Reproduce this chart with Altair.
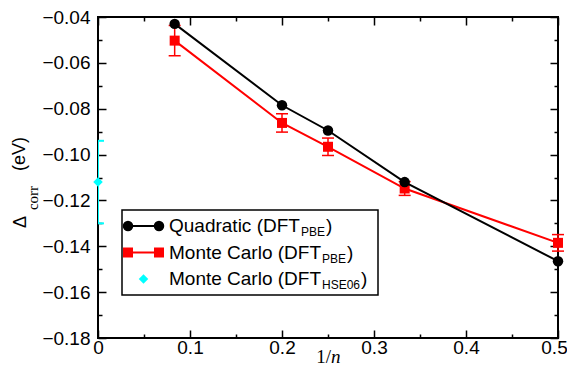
import altair as alt
import pandas as pd

# ---------------- data ----------------
inv_n = [1 / 12, 1 / 5, 1 / 4, 1 / 3, 1 / 2]
quadratic_pbe = [-0.0430, -0.0785, -0.0895, -0.1120, -0.1465]
mc_pbe = [-0.0503, -0.0862, -0.0966, -0.1148, -0.1385]
mc_pbe_err = [0.0066, 0.0040, 0.0038, 0.0030, 0.0036]
mc_hse_x = [0.0]
mc_hse = [-0.112]
mc_hse_err = [0.018]

y_major = [-0.18, -0.16, -0.14, -0.12, -0.10, -0.08, -0.06, -0.04]
y_minor = [-0.17, -0.15, -0.13, -0.11, -0.09, -0.07, -0.05]
x_major = [0.0, 0.1, 0.2, 0.3, 0.4, 0.5]
x_minor = [0.05, 0.15, 0.25, 0.35, 0.45]

legend_text = ["Quadratic (DFT", "Monte Carlo (DFT", "Monte Carlo (DFT"]
legend_sub = ["PBE", "PBE", "HSE06"]

# ---------------- styling ----------------
BLACK, RED, CYAN = "#000000", "#ff0000", "#00ffff"
SANS, SERIF = "Liberation Sans", "Liberation Serif"
TICK_FS = 19
LEG_FS = 19
SUB_FS = 12

xs = alt.Scale(domain=[0, 0.5], nice=False, zero=False)
ys = alt.Scale(domain=[-0.18, -0.04], nice=False, zero=False)

df_q = pd.DataFrame({"x": inv_n, "y": quadratic_pbe})
df_mc = pd.DataFrame({"x": inv_n, "y": mc_pbe, "err": mc_pbe_err})
df_mc["lo"] = df_mc["y"] - df_mc["err"]
df_mc["hi"] = df_mc["y"] + df_mc["err"]
df_h = pd.DataFrame({"x": mc_hse_x, "y": mc_hse, "err": mc_hse_err})
df_h["lo"] = df_h["y"] - df_h["err"]
df_h["hi"] = df_h["y"] + df_h["err"]
dummy = pd.DataFrame({"d": [0]})


def axis(orient, values, size, labels=False, pad=0, expr=None, last_shift=None):
    # inward ticks: axis line moved inside the frame by the tick length
    kw = dict(orient=orient, values=values, tickSize=size, offset=-size,
              tickWidth=1.5, tickColor=BLACK, domain=False, grid=False, title=None,
              labels=labels, ticks=True)
    if labels:
        kw.update(labelFont=SANS, labelFontSize=TICK_FS, labelColor=BLACK,
                  labelPadding=pad, labelOverlap=False, labelFlush=False, labelBound=False)
        if expr:
            kw["labelExpr"] = expr
        else:
            kw["format"] = ".2f"
        if last_shift is not None:
            kw["labelOffset"] = {"condition": {"test": "datum.value >= 0.5", "value": last_shift},
                                 "value": 0}
    return alt.Axis(**kw)


def axis_layer(xa, ya):
    return alt.Chart(df_q).mark_point(opacity=0).encode(
        x=alt.X("x:Q", scale=xs, axis=xa), y=alt.Y("y:Q", scale=ys, axis=ya))


X = alt.X("x:Q", scale=xs, axis=None)

axes = [
    axis_layer(axis("bottom", x_major, 8, True, 0,
                    "datum.value == 0 ? '0' : format(datum.value, '.1f')", last_shift=-4),
               axis("left", y_major, 8, True, 8)),
    axis_layer(axis("bottom", x_minor, 4), axis("left", y_minor, 4)),
    axis_layer(axis("top", x_major, 8), axis("right", y_major, 8)),
    axis_layer(axis("top", x_minor, 4), axis("right", y_minor, 4)),
]

red_line = alt.Chart(df_mc).mark_line(color=RED, strokeWidth=2).encode(
    x=X, y=alt.Y("y:Q", scale=ys, axis=None))
red_err = alt.Chart(df_mc).mark_rule(color=RED, strokeWidth=1.5).encode(
    x=X, y=alt.Y("lo:Q", scale=ys, axis=None), y2="hi:Q")
red_cap_lo = alt.Chart(df_mc).mark_tick(orient="horizontal", color=RED, size=12,
                                        thickness=1.5, opacity=1).encode(
    x=X, y=alt.Y("lo:Q", scale=ys, axis=None))
red_cap_hi = alt.Chart(df_mc).mark_tick(orient="horizontal", color=RED, size=12,
                                        thickness=1.5, opacity=1).encode(
    x=X, y=alt.Y("hi:Q", scale=ys, axis=None))
red_pts = alt.Chart(df_mc).mark_point(shape="square", filled=True, color=RED,
                                      size=100, opacity=1).encode(
    x=X, y=alt.Y("y:Q", scale=ys, axis=None))

blk_line = alt.Chart(df_q).mark_line(color=BLACK, strokeWidth=2).encode(
    x=X, y=alt.Y("y:Q", scale=ys, axis=None))
blk_pts = alt.Chart(df_q).mark_point(shape="circle", filled=True, color=BLACK,
                                     size=110, opacity=1).encode(
    x=X, y=alt.Y("y:Q", scale=ys, axis=None))

cy_err = alt.Chart(df_h).mark_rule(color=CYAN, strokeWidth=2, clip=True).encode(
    x=X, y=alt.Y("lo:Q", scale=ys, axis=None), y2="hi:Q")
cy_cap_lo = alt.Chart(df_h).mark_tick(orient="horizontal", color=CYAN, size=12,
                                      thickness=2, opacity=1, clip=True).encode(
    x=X, y=alt.Y("lo:Q", scale=ys, axis=None))
cy_cap_hi = alt.Chart(df_h).mark_tick(orient="horizontal", color=CYAN, size=12,
                                      thickness=2, opacity=1, clip=True).encode(
    x=X, y=alt.Y("hi:Q", scale=ys, axis=None))
cy_pts = alt.Chart(df_h).mark_point(shape="diamond", filled=True, color=CYAN,
                                    size=90, opacity=1).encode(
    x=X, y=alt.Y("y:Q", scale=ys, axis=None))


def txt(s, x, y, size, font=SANS, style=None, angle=None, align="left", baseline="middle"):
    m = dict(text=s, font=font, fontSize=size, align=align, baseline=baseline, color=BLACK)
    if style:
        m["fontStyle"] = style
    if angle is not None:
        m["angle"] = angle
    return alt.Chart(dummy).mark_text(**m).encode(x=alt.value(x), y=alt.value(y))


ARIAL_W = {'Q': .778, 'u': .556, 'a': .556, 'd': .556, 'r': .333, 't': .278, 'i': .222,
           'c': .5, ' ': .278, '(': .333, ')': .333, 'D': .722, 'F': .611, 'T': .611,
           'M': .833, 'o': .556, 'n': .556, 'e': .556, 'C': .722, 'l': .222, 'P': .667,
           'B': .667, 'E': .667, 'H': .722, 'S': .667, '0': .556, '6': .556}


def text_w(s, fs):
    return sum(ARIAL_W.get(c, .556) for c in s) * fs


# ---------------- legend ----------------
leg = [alt.Chart(dummy).mark_rect(fill="white", stroke=BLACK, strokeWidth=1.5).encode(
    x=alt.value(24), x2=alt.value(280), y=alt.value(193), y2=alt.value(278))]
row_y = [209, 235.5, 262]
sym_x0, sym_x1, text_x = 30, 61, 71
leg.append(alt.Chart(dummy).mark_rule(color=BLACK, strokeWidth=2).encode(
    x=alt.value(sym_x0), x2=alt.value(sym_x1), y=alt.value(row_y[0])))
for sx in (sym_x0, sym_x1):
    leg.append(alt.Chart(dummy).mark_point(shape="circle", filled=True, color=BLACK,
                                           size=110, opacity=1).encode(
        x=alt.value(sx), y=alt.value(row_y[0])))
leg.append(alt.Chart(dummy).mark_rule(color=RED, strokeWidth=2).encode(
    x=alt.value(sym_x0), x2=alt.value(sym_x1), y=alt.value(row_y[1])))
for sx in (sym_x0, sym_x1):
    leg.append(alt.Chart(dummy).mark_point(shape="square", filled=True, color=RED,
                                           size=100, opacity=1).encode(
        x=alt.value(sx), y=alt.value(row_y[1])))
leg.append(alt.Chart(dummy).mark_point(shape="diamond", filled=True, color=CYAN,
                                       size=90, opacity=1).encode(
    x=alt.value((sym_x0 + sym_x1) / 2), y=alt.value(row_y[2])))
for i in range(3):
    w_main = text_w(legend_text[i], LEG_FS)
    w_sub = text_w(legend_sub[i], SUB_FS)
    leg.append(txt(legend_text[i], text_x, row_y[i], LEG_FS))
    leg.append(txt(legend_sub[i], text_x + w_main + 1, row_y[i] + 6, SUB_FS))
    leg.append(txt(")", text_x + w_main + w_sub + 2, row_y[i], LEG_FS))

# ---------------- axis titles ----------------
titles = [
    txt("\u0394", -77, 205, 18, angle=270, align="center"),
    txt("corr", -65, 181, 15, font=SERIF, angle=270, align="center"),
    txt("(eV)", -78, 137, 18, angle=270, align="center"),
    txt("1/", 233, 340, 19, font=SERIF, align="right"),
    txt("n", 233, 340, 19, font=SERIF, style="italic", align="left"),
]

chart = alt.layer(
    *axes,
    red_line, red_err, red_cap_lo, red_cap_hi, red_pts,
    blk_line, blk_pts,
    cy_err, cy_cap_lo, cy_cap_hi, cy_pts,
    *leg, *titles,
).resolve_axis(x="independent", y="independent").properties(
    width=460, height=321,
    autosize=alt.AutoSizeParams(type="none"),
    padding={"left": 90, "top": 9, "right": 9, "bottom": 28},
    background="white",
).configure_view(stroke=BLACK, strokeWidth=2)

chart.save("out.html", embed_options={"renderer": "svg", "actions": False})
